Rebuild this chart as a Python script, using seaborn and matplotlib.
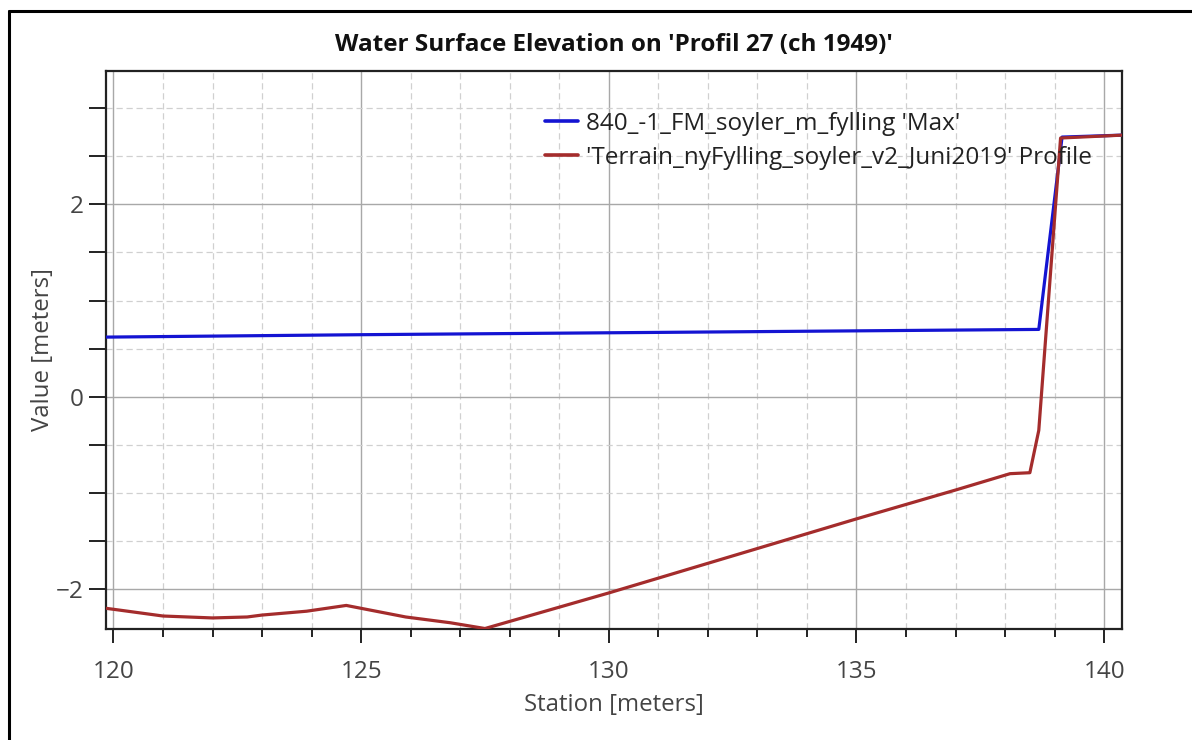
import matplotlib
matplotlib.use("Agg")
import matplotlib.pyplot as plt
import seaborn as sns
import pandas as pd
from matplotlib.ticker import MultipleLocator
from matplotlib.lines import Line2D

# ---- data ----
wse_station = [119.85, 125.0, 130.0, 135.0, 138.68, 139.15, 140.36]
wse_value = [0.62, 0.645, 0.665, 0.685, 0.70, 2.70, 2.72]

terrain_station = [119.85, 120.0, 121.0, 122.0, 122.7, 123.0, 123.9, 124.7, 125.0,
                   125.9, 126.8, 127.5, 130.0, 135.0, 137.0, 138.1, 138.5, 138.68,
                   139.12, 140.36]
terrain_value = [-2.20, -2.21, -2.28, -2.30, -2.29, -2.27, -2.23, -2.17, -2.20,
                 -2.29, -2.35, -2.41, -2.04, -1.27, -0.97, -0.80, -0.79, -0.35,
                 2.69, 2.72]

series_names = ["840_-1_FM_soyler_m_fylling 'Max'",
                "'Terrain_nyFylling_soyler_v2_Juni2019' Profile"]
title = "Water Surface Elevation on 'Profil 27 (ch 1949)'"
xlabel = "Station [meters]"
ylabel = "Value [meters]"

# ---- style ----
sns.set_theme(style="white")
plt.rcParams['font.family'] = ['Open Sans', 'DejaVu Sans']

fig = plt.figure(figsize=(11.92, 7.40), dpi=100)
ax = fig.add_axes([106 / 1192, 1 - 629 / 740, (1122 - 106) / 1192, (629 - 70.7) / 740])

df1 = pd.DataFrame({"station": wse_station, "value": wse_value})
df2 = pd.DataFrame({"station": terrain_station, "value": terrain_value})

blue = "#1414d2"
red = "#a42c2c"
sns.lineplot(data=df1, x="station", y="value", ax=ax, color=blue, lw=2.3, sort=False, zorder=3)
sns.lineplot(data=df2, x="station", y="value", ax=ax, color=red, lw=2.3, sort=False, zorder=4)

ax.set_xlim(119.85, 140.36)
ax.set_ylim(-2.415, 3.39)
ax.xaxis.set_major_locator(MultipleLocator(5))
ax.xaxis.set_minor_locator(MultipleLocator(1))
ax.yaxis.set_major_locator(MultipleLocator(2))
ax.yaxis.set_minor_locator(MultipleLocator(0.5))

ax.grid(which="major", color="#a8a8a8", lw=1.0, ls="-", zorder=0)
ax.grid(which="minor", color="#d0d0d0", lw=0.9, ls=(0, (5, 3)), zorder=0)
ax.set_axisbelow(True)

for s in ax.spines.values():
    s.set_color("#222222")
    s.set_linewidth(1.6)

ax.tick_params(axis="x", which="major", direction="out", length=10, width=1.4,
               color="#222222", labelsize=17.5, labelcolor="#444444", pad=12,
               bottom=True)
ax.tick_params(axis="y", which="major", direction="out", length=12, width=1.4,
               color="#222222", labelsize=17.5, labelcolor="#444444", pad=4,
               left=True)
ax.tick_params(axis="x", which="minor", direction="out", length=5.5, width=1.4,
               color="#222222", bottom=True)
ax.tick_params(axis="y", which="minor", direction="out", length=12, width=1.4,
               color="#222222", left=True)

ax.set_xlabel(xlabel, fontsize=17.3, color="#444444", labelpad=7)
ax.set_ylabel(ylabel, fontsize=17.3, color="#444444", labelpad=1)
ax.set_title(title, fontsize=17.5, fontweight="bold", color="#111111", pad=14)

handles = [Line2D([], [], color=blue, lw=2.6), Line2D([], [], color=red, lw=2.6)]
leg = ax.legend(handles, series_names, loc="upper left",
                bbox_to_anchor=(545 / 1192, 1 - 112 / 740), bbox_transform=fig.transFigure,
                frameon=False, fontsize=17.5, handlelength=1.35, handletextpad=0.33,
                labelspacing=0.4, borderpad=0, borderaxespad=0)
for t in leg.get_texts():
    t.set_color("#222222")

# outer frame of the screenshot
fig.add_artist(Line2D([9 / 1192, 9 / 1192], [0, 1 - 11 / 740], color="black", lw=2.2,
                      transform=fig.transFigure))
fig.add_artist(Line2D([9 / 1192, 1], [1 - 11 / 740, 1 - 11 / 740], color="black", lw=2.2,
                      transform=fig.transFigure))

fig.savefig("out.png", dpi=100)
